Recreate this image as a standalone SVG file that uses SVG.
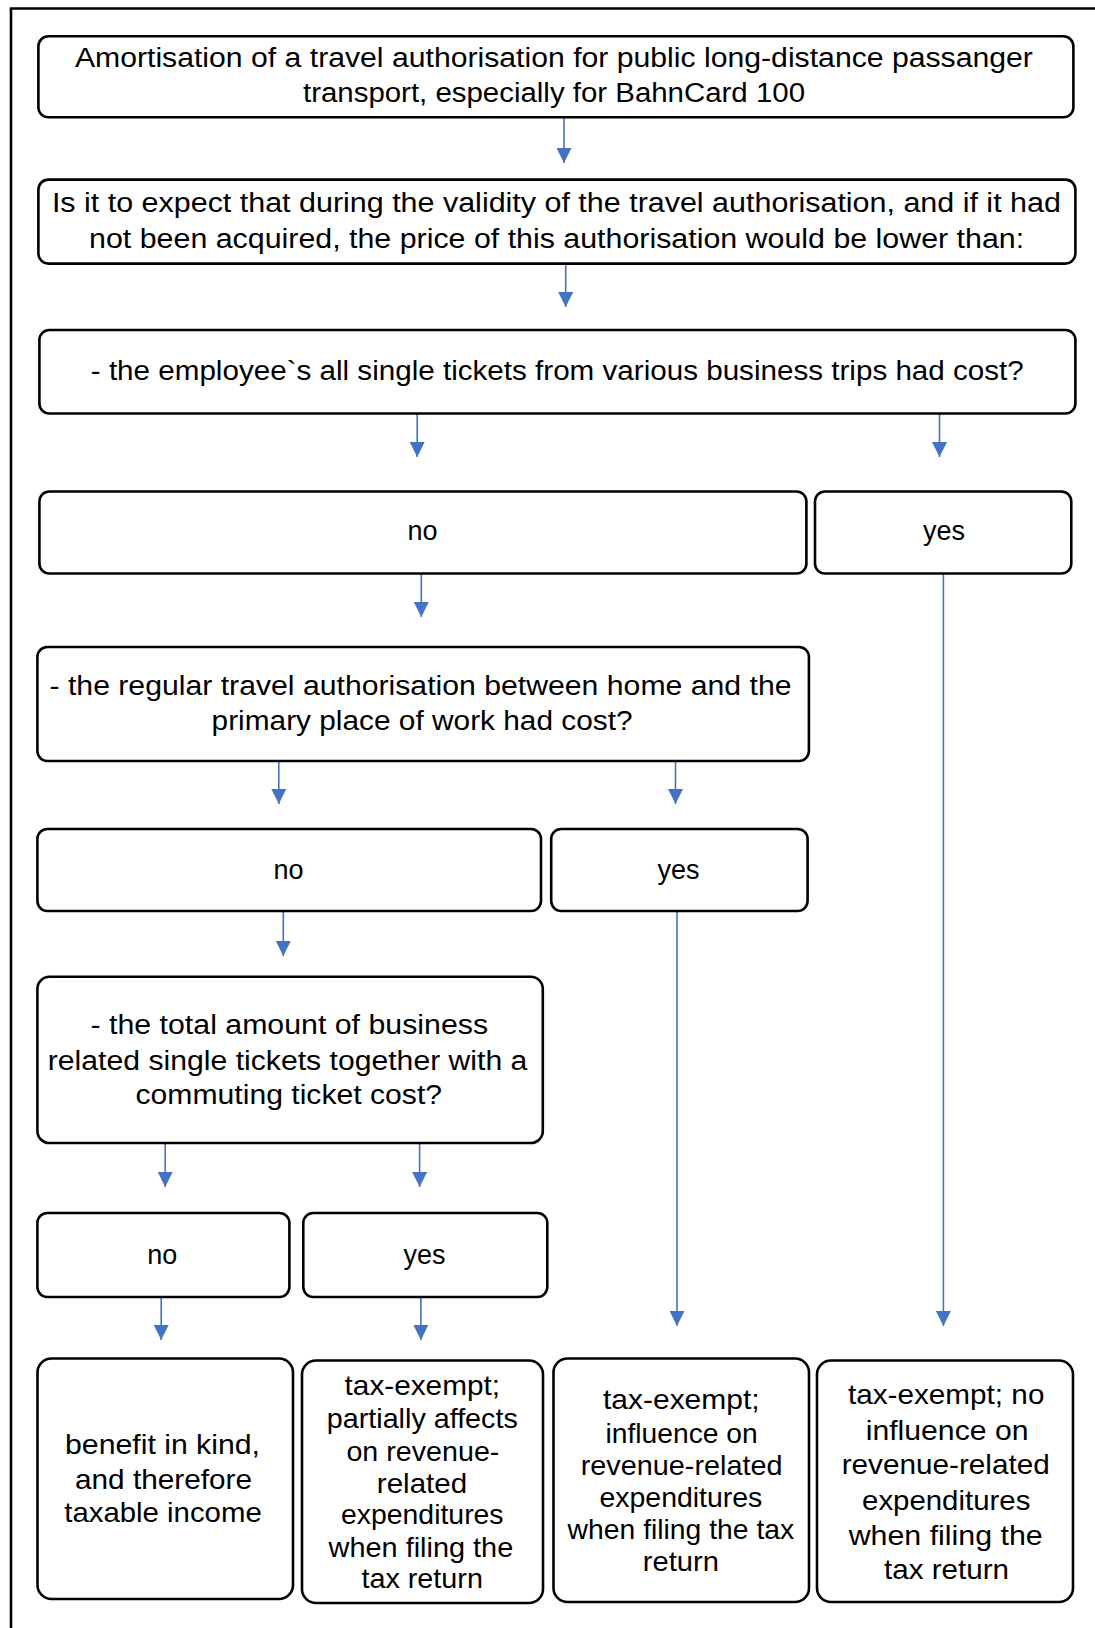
<svg xmlns="http://www.w3.org/2000/svg" width="1095" height="1628" viewBox="0 0 1095 1628">
  <style>
    .box { fill: #ffffff; stroke: #000000; stroke-width: 2.6; }
    .t { font-family: "Liberation Sans", Arial, sans-serif; font-size: 27px; fill: #000000; text-anchor: middle; }
    .tb { font-family: "Liberation Sans", Arial, sans-serif; font-size: 28px; fill: #000000; text-anchor: middle; }
    .edge { stroke: #4472C4; stroke-width: 1.6; fill: none; marker-end: url(#arrow); }
    .frame { stroke: #000000; stroke-width: 2.6; fill: none; }
  </style>
  <defs>
    <marker id="arrow" markerUnits="userSpaceOnUse" markerWidth="15" markerHeight="15" refX="15" refY="7.5" orient="auto">
      <path d="M0,0 L15,7.5 L0,15 z" fill="#4472C4"/>
    </marker>
  </defs>

  <rect width="1095" height="1628" fill="#ffffff"/>
  <!-- page frame (top and left edges) -->
  <path class="frame" d="M11,1628 V8.5 H1095"/>

  <g id="connectors">
    <line class="edge" x1="564" y1="117" x2="564" y2="163"/>
    <line class="edge" x1="565.7" y1="264" x2="565.7" y2="307"/>
    <line class="edge" x1="417.2" y1="414" x2="417.2" y2="457"/>
    <line class="edge" x1="939.5" y1="414" x2="939.5" y2="457"/>
    <line class="edge" x1="421.3" y1="573" x2="421.3" y2="617"/>
    <line class="edge" x1="943.4" y1="573" x2="943.4" y2="1326"/>
    <line class="edge" x1="278.8" y1="761" x2="278.8" y2="804"/>
    <line class="edge" x1="675.5" y1="761" x2="675.5" y2="804"/>
    <line class="edge" x1="283.3" y1="911" x2="283.3" y2="956"/>
    <line class="edge" x1="677" y1="911" x2="677" y2="1326"/>
    <line class="edge" x1="165.2" y1="1143" x2="165.2" y2="1187"/>
    <line class="edge" x1="419.6" y1="1143" x2="419.6" y2="1187"/>
    <line class="edge" x1="161.2" y1="1297" x2="161.2" y2="1340"/>
    <line class="edge" x1="420.9" y1="1297" x2="420.9" y2="1340"/>
  </g>

  <g id="start">
    <rect class="box" x="38.4" y="36.3" width="1035" height="81" rx="10"/>
    <text class="t" x="553.9" y="66.5" textLength="958" lengthAdjust="spacingAndGlyphs">Amortisation of a travel authorisation for public long-distance passanger</text>
    <text class="t" x="554" y="101.5" textLength="502" lengthAdjust="spacingAndGlyphs">transport, especially for BahnCard 100</text>
  </g>

  <g id="question">
    <rect class="box" x="38.4" y="179.6" width="1037" height="84" rx="10"/>
    <text class="t" x="556.4" y="211.5" textLength="1009" lengthAdjust="spacingAndGlyphs">Is it to expect that during the validity of the travel authorisation, and if it had</text>
    <text class="t" x="556.6" y="248" textLength="935" lengthAdjust="spacingAndGlyphs">not been acquired, the price of this authorisation would be lower than:</text>
  </g>

  <g id="single-tickets">
    <rect class="box" x="39.4" y="330" width="1036" height="83.5" rx="10"/>
    <text class="t" x="557.3" y="379.5" textLength="933" lengthAdjust="spacingAndGlyphs">- the employee`s all single tickets from various business trips had cost?</text>
  </g>

  <g id="single-no">
    <rect class="box" x="39.4" y="491.5" width="767" height="82" rx="10"/>
    <text class="t" x="422.5" y="539.5">no</text>
  </g>

  <g id="single-yes">
    <rect class="box" x="815" y="491.5" width="256.3" height="82" rx="10"/>
    <text class="t" x="944" y="539.5">yes</text>
  </g>

  <g id="regular-ticket">
    <rect class="box" x="37.4" y="647" width="771.5" height="114" rx="10"/>
    <text class="t" x="420.5" y="694.5" textLength="742" lengthAdjust="spacingAndGlyphs">- the regular travel authorisation between home and the</text>
    <text class="t" x="422.1" y="729.5" textLength="421" lengthAdjust="spacingAndGlyphs">primary place of work had cost?</text>
  </g>

  <g id="regular-no">
    <rect class="box" x="37.4" y="829" width="503.6" height="82" rx="10"/>
    <text class="t" x="288.4" y="878.5">no</text>
  </g>

  <g id="regular-yes">
    <rect class="box" x="551.2" y="829" width="256.4" height="82" rx="10"/>
    <text class="t" x="678.4" y="878.5">yes</text>
  </g>

  <g id="combined-cost">
    <rect class="box" x="37.4" y="976.8" width="505.4" height="166.2" rx="12"/>
    <text class="t" x="289.3" y="1033.5" textLength="397.5" lengthAdjust="spacingAndGlyphs">- the total amount of business</text>
    <text class="t" x="287.6" y="1070" textLength="479.6" lengthAdjust="spacingAndGlyphs">related single tickets together with a</text>
    <text class="t" x="288.8" y="1104" textLength="306.5" lengthAdjust="spacingAndGlyphs">commuting ticket cost?</text>
  </g>

  <g id="combined-no">
    <rect class="box" x="37.4" y="1213" width="252" height="84" rx="10"/>
    <text class="t" x="162.3" y="1263.5">no</text>
  </g>

  <g id="combined-yes">
    <rect class="box" x="303.3" y="1213" width="244" height="84" rx="10"/>
    <text class="t" x="424.4" y="1263.5">yes</text>
  </g>

  <g id="result-taxable">
    <rect class="box" x="37.5" y="1358.5" width="255.5" height="240.5" rx="14"/>
    <text class="tb" x="162.5" y="1453.5" textLength="195" lengthAdjust="spacingAndGlyphs">benefit in kind,</text>
    <text class="tb" x="163.5" y="1488.5" textLength="177" lengthAdjust="spacingAndGlyphs">and therefore</text>
    <text class="tb" x="163" y="1522" textLength="197.5" lengthAdjust="spacingAndGlyphs">taxable income</text>
  </g>

  <g id="result-partial">
    <rect class="box" x="302" y="1360.5" width="241" height="242.5" rx="14"/>
    <text class="tb" x="422.3" y="1395" textLength="155.4" lengthAdjust="spacingAndGlyphs">tax-exempt;</text>
    <text class="tb" x="422.3" y="1428" textLength="191" lengthAdjust="spacingAndGlyphs">partially affects</text>
    <text class="tb" x="422.9" y="1460.5" textLength="153" lengthAdjust="spacingAndGlyphs">on revenue-</text>
    <text class="tb" x="422" y="1492.5" textLength="90.3" lengthAdjust="spacingAndGlyphs">related</text>
    <text class="tb" x="422.3" y="1524" textLength="162.6" lengthAdjust="spacingAndGlyphs">expenditures</text>
    <text class="tb" x="420.9" y="1556.5" textLength="184.6" lengthAdjust="spacingAndGlyphs">when filing the</text>
    <text class="tb" x="422.2" y="1588" textLength="121.5" lengthAdjust="spacingAndGlyphs">tax return</text>
  </g>

  <g id="result-influence">
    <rect class="box" x="553.5" y="1358.5" width="255.5" height="243.5" rx="14"/>
    <text class="tb" x="681.3" y="1409" textLength="156.5" lengthAdjust="spacingAndGlyphs">tax-exempt;</text>
    <text class="tb" x="681.6" y="1443" textLength="152.2" lengthAdjust="spacingAndGlyphs">influence on</text>
    <text class="tb" x="681.6" y="1475" textLength="201.8" lengthAdjust="spacingAndGlyphs">revenue-related</text>
    <text class="tb" x="680.9" y="1507" textLength="162.8" lengthAdjust="spacingAndGlyphs">expenditures</text>
    <text class="tb" x="680.9" y="1539" textLength="226.6" lengthAdjust="spacingAndGlyphs">when filing the tax</text>
    <text class="tb" x="680.8" y="1571" textLength="76.1" lengthAdjust="spacingAndGlyphs">return</text>
  </g>

  <g id="result-no-influence">
    <rect class="box" x="817" y="1360.5" width="256" height="241.5" rx="14"/>
    <text class="tb" x="946.2" y="1403.5" textLength="196.4" lengthAdjust="spacingAndGlyphs">tax-exempt; no</text>
    <text class="tb" x="947.1" y="1439.5" textLength="162.8" lengthAdjust="spacingAndGlyphs">influence on</text>
    <text class="tb" x="945.7" y="1473.5" textLength="208.1" lengthAdjust="spacingAndGlyphs">revenue-related</text>
    <text class="tb" x="946.2" y="1509.5" textLength="168.3" lengthAdjust="spacingAndGlyphs">expenditures</text>
    <text class="tb" x="945.7" y="1545" textLength="194" lengthAdjust="spacingAndGlyphs">when filing the</text>
    <text class="tb" x="946.5" y="1579" textLength="125" lengthAdjust="spacingAndGlyphs">tax return</text>
  </g>
</svg>
